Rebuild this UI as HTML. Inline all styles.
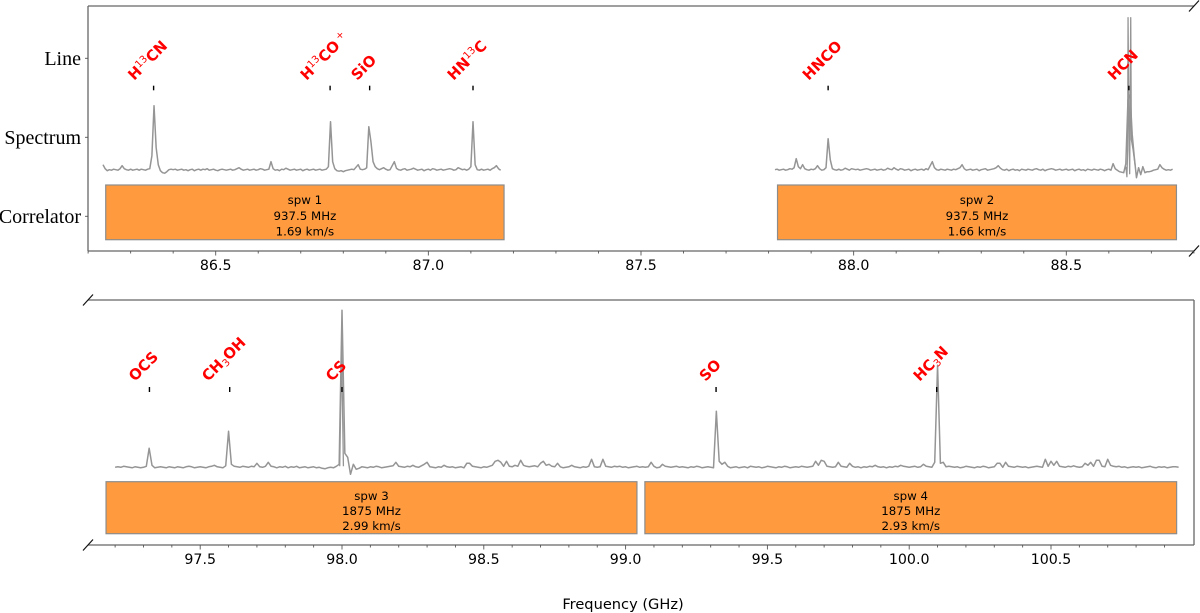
<!DOCTYPE html>
<html lang="en">
<head>
<meta charset="utf-8">
<title>Spectral windows</title>
<style>
html,body{margin:0;padding:0;background:#fff;}
#chart{display:block;position:absolute;left:0;top:0;}
</style>
</head>
<body>
<svg id="chart" width="1200" height="613" viewBox="0 0 1200 613" xmlns="http://www.w3.org/2000/svg"></svg>
<script>
// ---- data ----
const rowCategories = ['Correlator', 'Spectrum', 'Line'];

const upperTicks = [86.5, 87.0, 87.5, 88.0, 88.5];
const lowerTicks = [97.5, 98.0, 98.5, 99.0, 99.5, 100.0, 100.5];

const upperWindowNames = ['spw 1', 'spw 2'];
const upperWindowLow = [86.2414, 87.821];
const upperWindowHigh = [87.178, 88.759];
const upperWindowBandwidth = ['937.5 MHz', '937.5 MHz'];
const upperWindowResolution = ['1.69 km/s', '1.66 km/s'];

const lowerWindowNames = ['spw 3', 'spw 4'];
const lowerWindowLow = [97.168, 99.068];
const lowerWindowHigh = [99.04, 100.943];
const lowerWindowBandwidth = ['1875 MHz', '1875 MHz'];
const lowerWindowResolution = ['2.99 km/s', '2.93 km/s'];

const upperLineFreqs = [86.354, 86.769, 86.862, 87.105, 87.94, 88.647];
const upperLineNames = [
  [['H'],['13','sup'],['CN']],
  [['H'],['13','sup'],['CO'],['\u00a0+','sup']],
  [['SiO']],
  [['HN'],['13','sup'],['C']],
  [['HNCO']],
  [['HCN']]
];
const lowerLineFreqs = [97.321, 97.604, 98.0, 99.319, 100.097];
const lowerLineNames = [
  [['OCS']],
  [['CH'],['3','sub'],['OH']],
  [['CS']],
  [['SO']],
  [['HC'],['3','sub'],['N']]
];

// channel grids: first frequency and channel step (GHz)
const spw1Start = 86.235, spw1Step = 0.005;
const spw2Start = 87.815, spw2Step = 0.005;
const lowerStart = 97.2, lowerStep = 0.01;

const spw1Values = [
5,1,-1,0,-.5,.5,0,-.5,1,4,
1,0,-.5,.5,-.5,0,.5,-.5,.5,0,
-.5,.5,1,14,64,22,5,-1,-3,-3.5,
-2,0,.5,0,.5,-.5,0,.5,-.5,0,
-1,0,.5,-1,0,.5,-.5,.5,0,1,
-.5,0,.5,-.5,-1,0,.5,0,-.5,0,
.5,-.5,0,1,2,.5,-.5,0,.5,-.5,
0,.5,-.5,0,1,.5,-.5,0,.5,8,
1,-.5,0,-1,.5,0,1.5,.5,-.5,0,
.5,-.5,0,.5,-1,0,.5,-.5,0,.5,
-.5,0,.5,-.5,0,.5,3,48,8,1,
-1,-1.5,-1,-2,-1,-.5,0,.5,0,2.5,
5,.5,0,.5,2,43,28,8,3,1,
0,1,2,.5,-.5,0,4,8,1.5,0,
-.5,.5,1,-.5,0,.5,1.5,.5,-.5,0,
.5,-1,0,.5,-.5,1,.5,-.5,0,.5,
-.5,0,.5,1,.5,-.5,0,2,1,0,
.5,-.5,.5,3,48,5,0,-.5,.5,-.5,
0,.5,-.5,1,2,4,1,-.5
];

const spw2Values = [
0,.5,-.5,0,.5,-.5,0,1,.5,2,
11,3,1,5,1,0,-.5,.5,0,1,
4,1,-.5,0,2,31,10,1,0,-.5,
.5,-.5,0,1.5,.5,-.5,1,.5,0,.5,
-.5,0,.5,1,.5,-.5,0,.5,-.5,0,
.5,-.5,0,1.5,.5,0,2,.5,-.5,1,
.5,-.5,0,.5,-1,0,.5,-.5,0,.5,
-.5,1,0,4,8,2,0,-.5,.5,0,
-.5,.5,0,-.5,.5,0,1,2,5,1,
-.5,0,.5,-.5,0,.5,-1,0,.5,1,
-.5,0,.5,1,2,4,1.5,0,-.5,.5,
-1,0,.5,-.5,0,-1,.5,0,-.5,.5,
0,-.5,.5,1,0,-.5,.5,-1,0,.5,
1,.5,-.5,0,.5,-.5,0,.5,-.5,0,
.5,-1,0,.5,-.5,0,-1,.5,0,-.5,
.5,0,-.5,.5,0,-1,0,.5,-.5,6,
1,-.5,-2,-2.5,-3,6,70,75,35,12,
-8,2,-5,3,-3,-2,-2,-1.5,-.5,0,
.5,5,2,.5,-.5,0,-.5,.5
];

// overlapping high-resolution trace across the HCN core
const hcnCoreFreqs = [88.640, 88.6425, 88.6443, 88.6452, 88.6470, 88.6490, 88.6515, 88.6530, 88.6570, 88.6620];
const hcnCoreValues = [3, -7, 20, 152, 60, -4, 152, 30, 20, 4];

const lowerValues = [
0,.5,0,1,.5,0,-.5,.5,0,-.5,
0,1,19,2,-.5,0,.5,0,-.5,.5,
0,-.5,.5,0,-.5,.5,1,.5,-.5,0,
.5,0,-.5,.5,1,2,.5,0,-.5,1.5,
36,3,1,.5,0,1,.5,0,1,.5,
4,.5,0,1,5,1,.5,-.5,.5,0,
1,-.5,.5,0,1,-.5,0,.5,-.5,0,
.5,-.5,0,-1,-1.5,-.5,0,-.5,1,3,
157,14,10,-7,3,-2,-1,.5,0,-.5,
.5,0,1,.5,-.5,0,.5,1,1.5,5,
1,.5,0,1,.5,2,.5,0,1.5,3,
5,.5,0,-.5,.5,0,2,.5,0,.5,
-.5,0,.5,-.5,4,4,1,.5,0,-.5,
.5,0,1,2,6,7,5,1,6,1,
.5,2,1,7,2,1,.5,1,1.5,.5,
4,6,2,3,1,.5,4,.5,-.5,0,
.5,2,.5,0,-.5,.5,0,1,8,.5,
0,.5,8,1,.5,0,1,.5,1,0,
.5,-.5,0,.5,1,0,.5,0,.5,5,
1,-.5,0,3,1,.5,0,.5,1,0,
.5,0,-.5,.5,0,1,.5,-.5,0,.5,
0,-.5,56,6,3,5,1,-.5,0,.5,
-.5,0,.5,-.5,1,.5,0,.5,-.5,0,
1,.5,0,-.5,.5,0,1,.5,-.5,0,
.5,0,1,.5,0,.5,1,6,2,7,
6,1,.5,0,.5,5,1,.5,0,4,
1,0,.5,-.5,.5,0,1,.5,2,.5,
0,.5,-.5,.5,0,1,.5,2,1,.5,
0,.5,1,0,.5,3,1,.5,0,5,
102,4,5,.5,1,.5,0,.5,-.5,0,
1,.5,0,-.5,.5,0,1,.5,-.5,0,
.5,4,4,0,5,1,.5,0,1,.5,
0,.5,-.5,0,.5,1,.5,0,8,1,
6,2,6,1,.5,0,1,.5,1.5,.5,
0,.5,4,2,5,1,7,7,1,.5,
8,2,1,.5,1,0,.5,-.5,0,.5,
0,.5,-.5,0,.5,1,0,-.5,.5,0,
.5,-.5,0,.5,.5,0
];

// overlapping trace across the CS core
const csCoreFreqs = [97.992, 97.9985, 98.005];
const csCoreValues = [1, 120, 1];

// ---- scales ----
const upperX = f => 215.7 + (f - 86.5) * 425.3;
const lowerX = f => 342 + (f - 98) * 283.6;
const upperIntensityY = v => 169.7 - v;
const lowerIntensityY = v => 467.3 - v;
const rowY = i => 216.3 - 79 * i;

// ---- helpers ----
const NS = 'http://www.w3.org/2000/svg';
const svg = document.getElementById('chart');
const SANS = '"DejaVu Sans", "Liberation Sans", sans-serif';
function make(tag, attrs, parent) {
  const el = document.createElementNS(NS, tag);
  for (const k in attrs) el.setAttribute(k, attrs[k]);
  (parent || svg).appendChild(el);
  return el;
}
function slug(s) { return s.toLowerCase().replace(/[^a-z0-9]+/g, '-'); }

function drawTrace(values, start, step, xs, ys, name) {
  const pts = values.map((v, i) => xs(start + i * step).toFixed(2) + ',' + ys(v).toFixed(2)).join(' ');
  const el = make('polyline', {points: pts, fill: 'none', stroke: '#959595', 'stroke-width': 1.5, 'stroke-linejoin': 'round'});
  
  
}
function drawCore(freqs, values, xs, ys, name) {
  const pts = freqs.map((f, i) => xs(f).toFixed(2) + ',' + ys(values[i]).toFixed(2)).join(' ');
  const el = make('polyline', {points: pts, fill: 'none', stroke: '#959595', 'stroke-width': 1.3, 'stroke-linejoin': 'round'});
  
  
}
function drawWindows(names, lows, highs, bands, res, xs, top, bottom, textYs) {
  names.forEach((n, i) => {
    const x0 = xs(lows[i]), x1 = xs(highs[i]);
    const r = make('rect', {x: x0, y: top, width: x1 - x0, height: bottom - top, fill: '#ff9a3e', stroke: '#8c8c8c', 'stroke-width': 1.2});
    
    
    [n, bands[i], res[i]].forEach((line, j) => {
      const t = make('text', {x: (x0 + x1) / 2, y: textYs[j], 'text-anchor': 'middle', 'font-family': SANS, 'font-size': 11.8, fill: '#000'});
      t.textContent = line;
      
      
    });
  });
}
function drawLines(freqs, labels, xs, tickTop, tickBottom, labelBottom) {
  freqs.forEach((f, i) => {
    const x = xs(f);
    const tick = make('line', {x1: x, x2: x, y1: tickTop, y2: tickBottom, stroke: '#000', 'stroke-width': 1.4});
    
    
    const t = make('text', {'font-family': SANS, 'font-size': 14.8, 'font-weight': 'bold', fill: '#ff0000'});
    let shift = 0;
    labels[i].forEach(seg => {
      const s = make('tspan', {}, t);
      let target = 0;
      if (seg[1] === 'sup') { target = -5.5; s.setAttribute('font-size', 10); s.setAttribute('font-weight', 'normal'); }
      if (seg[1] === 'sub') { target = 2.5; s.setAttribute('font-size', 10); s.setAttribute('font-weight', 'normal'); }
      s.setAttribute('dy', target - shift);
      shift = target;
      s.textContent = seg[0];
    });
    const len = t.getComputedTextLength();
    const cx = x - 6;
    const x0 = cx - len * 0.7071 / 2 + 3.6;
    t.setAttribute('transform', 'translate(' + x0.toFixed(2) + ',' + labelBottom + ') rotate(-45)');
    
    
  });
}
function drawXAxis(ticks, xs, axisY, labelY, firstMinor, lastMinor, prefix) {
  for (let k = firstMinor; k <= lastMinor; k++) {
    const f = k / 10;
    const major = k % 5 === 0;
    const tk = make('line', {x1: xs(f), x2: xs(f), y1: axisY, y2: axisY + (major ? 4.5 : 2.5), stroke: '#555', 'stroke-width': 0.9});
    
    
  }
  ticks.forEach(f => {
    const t = make('text', {x: xs(f), y: labelY, 'text-anchor': 'middle', 'font-family': SANS, 'font-size': 14.2, fill: '#000'});
    t.textContent = f.toFixed(1);
    
    
  });
}
function spine(x1, y1, x2, y2, name) {
  const l = make('line', {x1, y1, x2, y2, stroke: '#666', 'stroke-width': 1.3});
  
  
}
function slash(x, y, name) {
  const l = make('line', {x1: x - 5, y1: y + 5.5, x2: x + 5, y2: y - 5.5, stroke: '#111', 'stroke-width': 1.2});
  
  
}

// ---- upper panel ----
drawWindows(upperWindowNames, upperWindowLow, upperWindowHigh, upperWindowBandwidth, upperWindowResolution, upperX, 185, 239.7, [204, 220, 235.5]);
drawTrace(spw1Values, spw1Start, spw1Step, upperX, upperIntensityY, 'spectrum-spw1');
drawTrace(spw2Values, spw2Start, spw2Step, upperX, upperIntensityY, 'spectrum-spw2');
drawCore(hcnCoreFreqs, hcnCoreValues, upperX, upperIntensityY, 'spectrum-hcn-core');
drawLines(upperLineFreqs, upperLineNames, upperX, 85.7, 90.3, 81);
spine(88, 6, 1194, 6, 'upper-top-spine');
spine(88, 251, 1194, 251, 'upper-bottom-spine');
spine(88, 6, 88, 251, 'upper-left-spine');
slash(1194, 6, 'upper-top-axis-break');
slash(1194, 251, 'upper-bottom-axis-break');
drawXAxis(upperTicks, upperX, 251, 270, 862, 888, 'upper-x');
rowCategories.forEach((c, i) => {
  const tk = make('line', {x1: 85, x2: 88, y1: rowY(i), y2: rowY(i), stroke: '#555', 'stroke-width': 0.9});
  
  
  const t = make('text', {x: 81, y: rowY(i) + 6.5, 'text-anchor': 'end', 'font-family': '"Liberation Serif", serif', 'font-size': 20, fill: '#000'});
  t.textContent = c;
  
  
});

// ---- lower panel ----
drawWindows(lowerWindowNames, lowerWindowLow, lowerWindowHigh, lowerWindowBandwidth, lowerWindowResolution, lowerX, 481.7, 533.7, [500, 515, 530]);
drawTrace(lowerValues, lowerStart, lowerStep, lowerX, lowerIntensityY, 'spectrum-spw3-spw4');
drawCore(csCoreFreqs, csCoreValues, lowerX, lowerIntensityY, 'spectrum-cs-core');
drawLines(lowerLineFreqs, lowerLineNames, lowerX, 387, 392, 382);
spine(88, 300, 1194, 300, 'lower-top-spine');
spine(88, 545, 1194, 545, 'lower-bottom-spine');
spine(1194, 300, 1194, 545, 'lower-right-spine');
slash(88, 300, 'lower-top-axis-break');
slash(88, 545, 'lower-bottom-axis-break');
drawXAxis(lowerTicks, lowerX, 545, 564, 972, 1009, 'lower-x');

const xTitle = make('text', {x: 623, y: 609, 'text-anchor': 'middle', 'font-family': SANS, 'font-size': 14.6, fill: '#000'});
xTitle.textContent = 'Frequency (GHz)';


</script>
</body>
</html>
